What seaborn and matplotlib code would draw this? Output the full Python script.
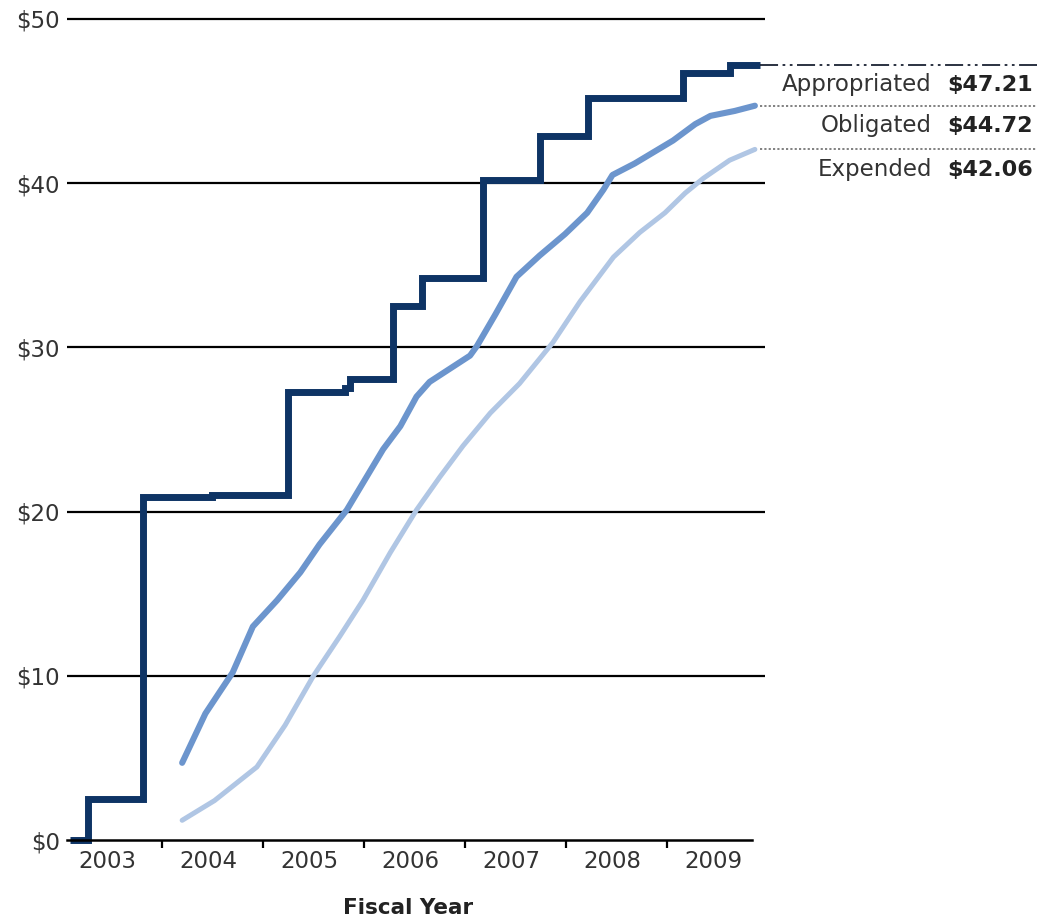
import matplotlib
matplotlib.use("Agg")
import matplotlib.pyplot as plt
import matplotlib.transforms as mtransforms
from matplotlib.ticker import FixedLocator, FuncFormatter
import seaborn as sns

# Cumulative funding in $ billions, x in fractional fiscal years
appropriated_year = [2003.09, 2003.27, 2003.81, 2004.50, 2005.25, 2005.81, 2005.86,
                     2006.29, 2006.57, 2007.18, 2007.74, 2008.22, 2009.16, 2009.62, 2009.92]
appropriated_value = [0.0, 2.5, 20.9, 21.0, 27.3, 27.5, 28.1,
                      32.5, 34.2, 40.2, 42.9, 45.2, 46.7, 47.21, 47.21]

obligated_year = [2004.20, 2004.43, 2004.57, 2004.70, 2004.90, 2005.14, 2005.37, 2005.56,
                  2005.83, 2006.19, 2006.36, 2006.52, 2006.65, 2006.85, 2007.05, 2007.12,
                  2007.30, 2007.51, 2007.74, 2007.99, 2008.21, 2008.37, 2008.46, 2008.68,
                  2009.06, 2009.28, 2009.43, 2009.67, 2009.87]
obligated_value = [4.7, 7.7, 9.0, 10.2, 13.0, 14.6, 16.3, 18.0,
                   20.1, 23.8, 25.2, 27.0, 27.9, 28.7, 29.5, 30.1,
                   32.0, 34.3, 35.6, 36.9, 38.2, 39.6, 40.5, 41.2,
                   42.6, 43.6, 44.1, 44.4, 44.72]

expended_year = [2004.20, 2004.52, 2004.94, 2005.22, 2005.50, 2005.76, 2005.99, 2006.26,
                 2006.52, 2006.75, 2006.98, 2007.25, 2007.54, 2007.87, 2008.14, 2008.47,
                 2008.73, 2008.98, 2009.18, 2009.36, 2009.62, 2009.87]
expended_value = [1.2, 2.4, 4.45, 7.0, 10.0, 12.4, 14.6, 17.5,
                  20.1, 22.1, 24.0, 26.0, 27.8, 30.3, 32.8, 35.5,
                  37.0, 38.2, 39.4, 40.3, 41.4, 42.06]

series_labels = ["Appropriated", "Obligated", "Expended"]
series_totals = [47.21, 44.72, 42.06]
fiscal_years = [2003, 2004, 2005, 2006, 2007, 2008, 2009]
y_ticks = [0, 10, 20, 30, 40, 50]

C_APPR = "#0e3465"
C_OBLI = "#6c95cd"
C_EXPE = "#b0c6e4"
TEXT = "#333333"

sns.set_style("white")
plt.rcParams["font.family"] = ["DejaVu Sans"]

W, H = 1037, 921
Y_TOP = 50.3
PX_PER_UNIT = 821 / 50
fig = plt.figure(figsize=(W / 100, H / 100), dpi=100)
ax = fig.add_axes([67 / W, 81 / H, 698 / W, PX_PER_UNIT * Y_TOP / H])

sns.lineplot(x=expended_year, y=expended_value, ax=ax, color=C_EXPE, lw=3.6,
             estimator=None, sort=False, clip_on=False, solid_capstyle="round")
sns.lineplot(x=obligated_year, y=obligated_value, ax=ax, color=C_OBLI, lw=4.4,
             estimator=None, sort=False, clip_on=False, solid_capstyle="round")
sns.lineplot(x=appropriated_year, y=appropriated_value, ax=ax, color=C_APPR, lw=5,
             estimator=None, sort=False, drawstyle="steps-post", clip_on=False,
             solid_joinstyle="miter", solid_capstyle="butt")

ax.set_xlim(2003.06, 2009.97)
ax.set_ylim(0, Y_TOP)

# y axis: dollar labels, horizontal rules
ax.set_yticks(y_ticks)
ax.yaxis.set_major_formatter(FuncFormatter(lambda v, p: f"${v:.0f}"))
ax.tick_params(axis="y", length=0, pad=5, labelsize=16.5, labelcolor=TEXT)
ax.set_axisbelow(True)
ax.yaxis.grid(True, color="black", lw=1.6)
ax.yaxis.get_gridlines()[0].set_visible(False)

# x axis: year-boundary ticks, labels centred in each fiscal year
ax.xaxis.set_major_locator(FixedLocator(fiscal_years[1:]))
ax.xaxis.set_minor_locator(FixedLocator([y + 0.46 for y in fiscal_years]))
ax.xaxis.set_minor_formatter(FuncFormatter(
    lambda v, p: str(fiscal_years[p]) if p is not None and p < len(fiscal_years) else ""))
ax.xaxis.set_major_formatter(FuncFormatter(lambda v, p: ""))
ax.tick_params(axis="x", which="both", bottom=True)
ax.tick_params(axis="x", which="major", length=6, width=1.6, direction="out", color="black")
ax.tick_params(axis="x", which="minor", length=0, pad=7, labelsize=16.5, labelcolor=TEXT)

for s in ["top", "right", "left"]:
    ax.spines[s].set_visible(False)
ax.spines["bottom"].set_color("black")
ax.spines["bottom"].set_linewidth(1.8)
ax.spines["bottom"].set_bounds(2003.06, 2009.84)

ax.set_xlabel("Fiscal Year", fontsize=15.5, fontweight="bold", color="#222222")
ax.xaxis.set_label_coords(0.4885, -68 / (PX_PER_UNIT * Y_TOP))
ax.xaxis.label.set_va("center")
ax.set_ylabel("")

# end-of-series leader lines and totals
trans = mtransforms.blended_transform_factory(fig.transFigure, ax.transData)
leader_styles = [
    dict(color="#1a2233", lw=1.3, linestyle=(0, (10, 2.5, 1.5, 2.5, 1.5, 2.5))),
    dict(color="#777777", lw=1.3, linestyle=(0, (1.2, 1.2))),
    dict(color="#777777", lw=1.3, linestyle=(0, (1.2, 1.2))),
]
for label, total, style in zip(series_labels, series_totals, leader_styles):
    ax.plot([760 / W, 1.0], [total, total], transform=trans, clip_on=False, **style)
    ax.annotate(label, xy=(932 / W, total), xycoords=trans, xytext=(0, -19),
                textcoords="offset points", ha="right", va="baseline",
                fontsize=16.5, color=TEXT, annotation_clip=False)
    ax.annotate(f"${total:.2f}", xy=(1033 / W, total), xycoords=trans, xytext=(0, -19),
                textcoords="offset points", ha="right", va="baseline",
                fontsize=16, fontweight="bold", color="#222222", annotation_clip=False)

fig.savefig("out.png", dpi=100, facecolor="white")
